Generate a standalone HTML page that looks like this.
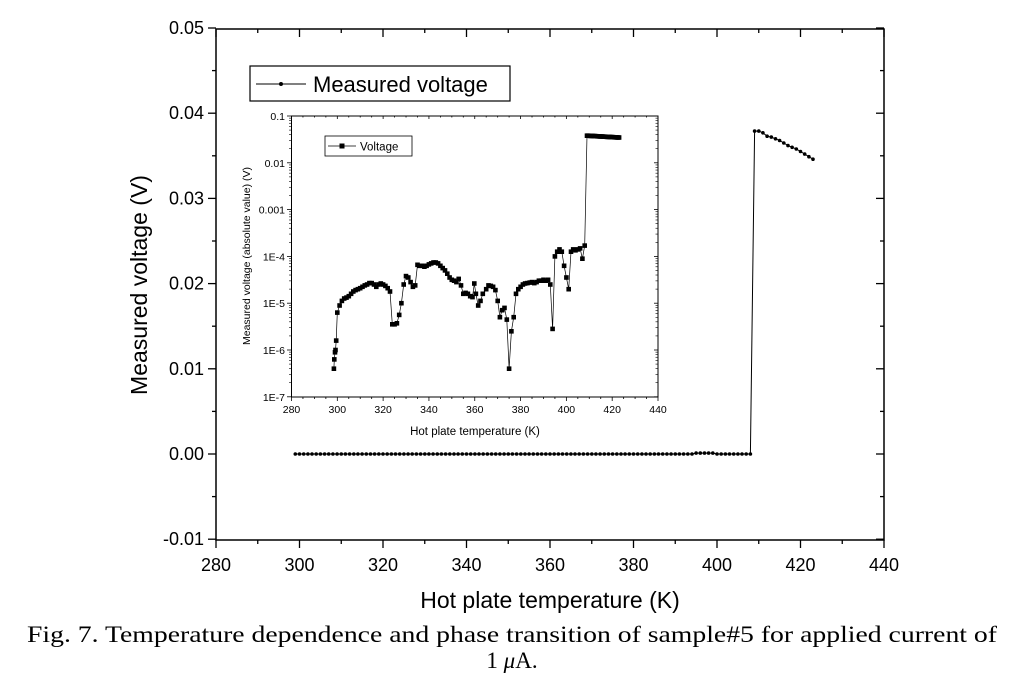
<!DOCTYPE html>
<html><head><meta charset="utf-8"><style>
html,body{margin:0;padding:0;background:#fff;}
svg{display:block;}
text{font-family:"Liberation Sans",Arial,sans-serif;fill:#000;}
.cap{font-family:"Liberation Serif","DejaVu Serif",serif;font-size:23px;}
</style></head><body>
<svg id="s" width="1024" height="699" viewBox="0 0 1024 699" xmlns="http://www.w3.org/2000/svg"></svg>
<script>
var s=document.getElementById('s'),h='';
function X(t){return 216+(t-280)*668/160;}
function Y(v){return 454-v*8520;}
h+='<rect x="216" y="29" width="668" height="511" fill="none" stroke="#000" stroke-width="1.5"/>';
for(var t=280;t<=440;t+=10){var x=X(t),big=(t%20==0);h+='<line x1="'+x+'" y1="540" x2="'+x+'" y2="'+(540+(big?8:4))+'" stroke="#000" stroke-width="1.3"/>';h+='<line x1="'+x+'" y1="29" x2="'+x+'" y2="'+(29+(big?8:4))+'" stroke="#000" stroke-width="1.3"/>';
if(big)h+='<text x="'+x+'" y="571" font-size="18" text-anchor="middle">'+t+'</text>';}
for(var i=-2;i<=10;i++){var v=i*0.005,y=Y(v),big=(i%2==0);h+='<line x1="216" y1="'+y+'" x2="'+(216-(big?8:4))+'" y2="'+y+'" stroke="#000" stroke-width="1.3"/>';h+='<line x1="884" y1="'+y+'" x2="'+(884-(big?8:4))+'" y2="'+y+'" stroke="#000" stroke-width="1.3"/>';
if(big)h+='<text x="204" y="'+(y+6)+'" font-size="18" text-anchor="end">'+(v.toFixed(2))+'</text>';}
h+='<text x="0" y="0" font-size="23" text-anchor="middle" transform="translate(147,285) rotate(-90)">Measured voltage (V)</text>';
h+='<text x="550" y="608" font-size="23" text-anchor="middle">Hot plate temperature (K)</text>';
var md=[];for(var t=299;t<=408;t++){md.push([t,(t>394&&t<400)?0.0001:0]);}
var tail=[0.0379,0.0379,0.0377,0.0373,0.0372,0.037,0.0368,0.0365,0.0362,0.036,0.0358,0.0355,0.0352,0.0349,0.0346];
for(var k=0;k<tail.length;k++)md.push([409+k,tail[k]]);
var p='';md.forEach(function(d,i){p+=(i?'L':'M')+X(d[0]).toFixed(1)+' '+Y(d[1]).toFixed(1);});
h+='<path d="'+p+'" fill="none" stroke="#000" stroke-width="1"/>';
md.forEach(function(d){h+='<circle cx="'+X(d[0]).toFixed(1)+'" cy="'+Y(d[1]).toFixed(1)+'" r="1.8" fill="#000"/>';});
h+='<rect x="250" y="66" width="260" height="35" fill="#fff" stroke="#000" stroke-width="1.2"/>';
h+='<line x1="256" y1="84" x2="306" y2="84" stroke="#000"/><circle cx="281" cy="84" r="2" fill="#000"/>';
h+='<text x="313" y="92" font-size="22">Measured voltage</text>';
function XI(t){return 291.5+(t-280)*366.5/160;}
function YI(l){return 116+(-1-l)*46.8;}
h+='<rect x="291.5" y="116" width="366.5" height="281" fill="#fff" stroke="#000" stroke-width="1"/>';
for(var t=280;t<=440;t+=5){var x=XI(t),big=(t%20==0);h+='<line x1="'+x+'" y1="397" x2="'+x+'" y2="'+(397+(big?4:2))+'" stroke="#000" stroke-width="0.8"/>';h+='<line x1="'+x+'" y1="116" x2="'+x+'" y2="'+(116+(big?3:1.5))+'" stroke="#000" stroke-width="0.8"/>';
if(big)h+='<text x="'+x+'" y="413" font-size="10.5" text-anchor="middle">'+t+'</text>';}
var yl=['0.1','0.01','0.001','1E-4','1E-5','1E-6','1E-7'];
for(var i=0;i<7;i++){var y=116+i*46.8;h+='<line x1="291.5" y1="'+y+'" x2="287" y2="'+y+'" stroke="#000" stroke-width="0.8"/><line x1="658" y1="'+y+'" x2="654" y2="'+y+'" stroke="#000" stroke-width="0.8"/>';
h+='<text x="285" y="'+(y+4)+'" font-size="10.5" text-anchor="end">'+yl[i]+'</text>';
if(i<6)for(var m=2;m<10;m++){var yy=y+46.8*(1-Math.log10(m));h+='<line x1="291.5" y1="'+yy+'" x2="289" y2="'+yy+'" stroke="#000" stroke-width="0.6"/><line x1="658" y1="'+yy+'" x2="655.5" y2="'+yy+'" stroke="#000" stroke-width="0.6"/>';}}
h+='<text x="0" y="0" font-size="10.5" text-anchor="middle" transform="translate(250,256) rotate(-90)">Measured voltage (absolute value) (V)</text>';
h+='<text x="475" y="435" font-size="11.5" text-anchor="middle">Hot plate temperature (K)</text>';
var id=[[298.5,-6.4],[298.7,-6.2],[299,-6.05],[299.2,-6.0],[299.5,-5.8],[300,-5.2],[301,-5.05],[302,-4.95],[303,-4.9],[304,-4.88],[305,-4.85],[306,-4.8],[307,-4.75],[308,-4.72],[309,-4.7],[310,-4.68],[311,-4.65],[312,-4.62],[313,-4.6],[314,-4.57],[315,-4.57],[316,-4.6],[317,-4.65],[318,-4.6],[319,-4.58],[320,-4.6],[321,-4.63],[322,-4.68],[323,-4.75],[324,-5.45],[325,-5.45],[326,-5.43],[327,-5.25],[328,-5.0],[329,-4.6],[330,-4.42],[331,-4.45],[332,-4.55],[333,-4.65],[334,-4.62],[335,-4.18],[336,-4.2],[337,-4.2],[338,-4.22],[339,-4.2],[340,-4.17],[341,-4.15],[342,-4.13],[343,-4.13],[344,-4.15],[345,-4.2],[346,-4.25],[347,-4.3],[348,-4.37],[349,-4.45],[350,-4.5],[351,-4.52],[352,-4.55],[353,-4.48],[354,-4.62],[355,-4.8],[356,-4.78],[357,-4.8],[358,-4.85],[359,-4.87],[359.8,-4.58],[360.5,-4.8],[361.5,-5.05],[362.5,-4.95],[363.5,-4.8],[365,-4.7],[366,-4.62],[367,-4.63],[368,-4.65],[369,-4.72],[370,-4.95],[371,-5.3],[372,-5.15],[373,-5.1],[374,-5.35],[375,-6.4],[376,-5.6],[377,-5.3],[378,-4.8],[379,-4.7],[380,-4.65],[381,-4.6],[382,-4.58],[383,-4.57],[384,-4.56],[385,-4.55],[386,-4.57],[387,-4.55],[388,-4.52],[389,-4.52],[390,-4.5],[391,-4.52],[392,-4.5],[393,-4.6],[394,-5.55],[395,-4.0],[396,-3.9],[397,-3.85],[398,-3.9],[399,-4.2],[400,-4.45],[401,-4.7],[402,-3.9],[403,-3.85],[404,-3.87],[405,-3.85],[406,-3.83],[407,-4.05],[408,-3.77]];
for(var k=0;k<=14;k+=0.5)id.push([409+k,-1.42-0.04*k/14]);
p='';id.forEach(function(d,i){p+=(i?'L':'M')+XI(d[0]).toFixed(1)+' '+YI(d[1]).toFixed(1);});
h+='<path d="'+p+'" fill="none" stroke="#000" stroke-width="0.7"/>';
id.forEach(function(d){h+='<rect x="'+(XI(d[0])-2.3).toFixed(1)+'" y="'+(YI(d[1])-2.3).toFixed(1)+'" width="4.6" height="4.6" fill="#000"/>';});
h+='<rect x="325" y="136" width="87" height="20" fill="#fff" stroke="#000" stroke-width="0.8"/>';
h+='<line x1="328" y1="146" x2="356" y2="146" stroke="#000" stroke-width="0.7"/><rect x="339.5" y="143.5" width="5" height="5" fill="#000"/>';
h+='<text x="360" y="150.5" font-size="11.5">Voltage</text>';
h+='<text class="cap" x="512" y="642" text-anchor="middle" textLength="970" lengthAdjust="spacingAndGlyphs">Fig. 7. Temperature dependence and phase transition of sample#5 for applied current of</text>';
h+='<text class="cap" x="512" y="668" text-anchor="middle">1 <tspan font-style="italic">μ</tspan>A.</text>';
s.innerHTML=h;
</script>
</body></html>
